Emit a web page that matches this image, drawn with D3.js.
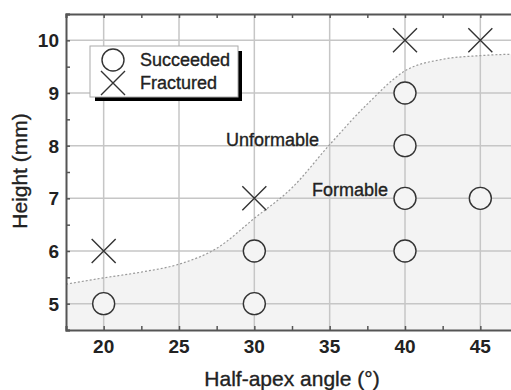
<!DOCTYPE html>
<html>
<head>
<meta charset="utf-8">
<script src="https://cdn.jsdelivr.net/npm/d3@7"></script>
<style>
  body { margin: 0; background: #fff; }
  svg { display: block; font-family: "Liberation Sans", Arial, sans-serif; }
  .lbl { stroke: #222; stroke-width: 0.35px; }
</style>
</head>
<body>
<div id="chart"></div>
<script>
// data
var succeededAngle  = [20, 30, 30, 40, 40, 40, 40, 45];
var succeededHeight = [5, 5, 6, 6, 7, 8, 9, 7];
var fracturedAngle  = [20, 30, 40, 45];
var fracturedHeight = [6, 7, 10, 10];
var boundaryAngle   = [17.5, 20, 22.5, 25, 27.5, 30, 32.5, 35, 37.5, 40, 42.5, 45, 47.5];
var boundaryHeight  = [5.37, 5.49, 5.6, 5.75, 6.05, 6.62, 7.2, 8.02, 8.79, 9.42, 9.64, 9.71, 9.74];
var xTicks = [20, 25, 30, 35, 40, 45];
var yTicks = [5, 6, 7, 8, 9, 10];

var W = 511, H = 390;
var margin = { left: 66, top: 14, bottom: 60 };
var plotRight = 518;

var svg = d3.select("#chart").append("svg")
    .attr("width", W)
    .attr("height", H);

var x = d3.scaleLinear().domain([17.5, 47.5]).range([margin.left, plotRight]);
var y = d3.scaleLinear().domain([4.5, 10.5]).range([H - margin.bottom, margin.top]);

var y0 = y.range()[0], y1 = y.range()[1];

// shaded formable region
var boundary = boundaryAngle.map(function(a, i) { return [a, boundaryHeight[i]]; });

var area = d3.area()
    .x(function(d) { return x(d[0]); })
    .y0(y0)
    .y1(function(d) { return y(d[1]); })
    .curve(d3.curveMonotoneX);

svg.append("path")
    .attr("d", area(boundary))
    .attr("fill", "#f3f3f3");

// grid
svg.append("g").selectAll("line")
    .data(xTicks).enter().append("line")
    .attr("x1", function(d) { return x(d); })
    .attr("x2", function(d) { return x(d); })
    .attr("y1", y0).attr("y2", y1)
    .attr("stroke", "#c6c6c6").attr("stroke-width", 1.5);

svg.append("g").selectAll("line")
    .data(yTicks).enter().append("line")
    .attr("x1", margin.left).attr("x2", plotRight)
    .attr("y1", function(d) { return y(d); })
    .attr("y2", function(d) { return y(d); })
    .attr("stroke", "#c6c6c6").attr("stroke-width", 1.5);

// dotted boundary
var line = d3.line()
    .x(function(d) { return x(d[0]); })
    .y(function(d) { return y(d[1]); })
    .curve(d3.curveMonotoneX);

svg.append("path")
    .attr("d", line(boundary))
    .attr("fill", "none")
    .attr("stroke", "#9a9a9a")
    .attr("stroke-width", 1.2)
    .attr("stroke-dasharray", "2,2");

// axes (ticks pointing inward)
var minorX = d3.range(17.5, 47.6, 2.5);
var minorY = d3.range(4.5, 10.6, 0.5);

var xBottom = svg.append("g")
    .attr("transform", "translate(0," + y0 + ")")
    .call(d3.axisBottom(x).tickValues(minorX).tickSize(-4).tickFormat(""));
var xTop = svg.append("g")
    .attr("transform", "translate(0," + y1 + ")")
    .call(d3.axisTop(x).tickValues(minorX).tickSize(-4).tickFormat(""));
var yLeft = svg.append("g")
    .attr("transform", "translate(" + margin.left + ",0)")
    .call(d3.axisLeft(y).tickValues(minorY).tickSize(-4).tickFormat(""));

[xBottom, xTop, yLeft].forEach(function(g) {
    g.select(".domain").attr("stroke", "#555").attr("stroke-width", 2);
    g.selectAll(".tick line").attr("stroke", "#555").attr("stroke-width", 1.5);
});

// tick labels
svg.append("g").selectAll("text")
    .data(xTicks).enter().append("text")
    .attr("x", function(d) { return x(d); })
    .attr("y", 353)
    .attr("text-anchor", "middle")
    .attr("font-size", 19)
    .attr("font-weight", "bold")
    .attr("fill", "#222")
    .text(function(d) { return d; });

svg.append("g").selectAll("text")
    .data(yTicks).enter().append("text")
    .attr("x", 59)
    .attr("y", function(d) { return y(d); })
    .attr("dy", "0.36em")
    .attr("text-anchor", "end")
    .attr("font-size", 19)
    .attr("font-weight", "bold")
    .attr("fill", "#222")
    .text(function(d) { return d; });

// axis titles
svg.append("text")
    .attr("class", "lbl")
    .attr("x", 292)
    .attr("y", 386)
    .attr("text-anchor", "middle")
    .attr("font-size", 21)
    .attr("fill", "#222")
    .text("Half-apex angle (°)");

svg.append("text")
    .attr("class", "lbl")
    .attr("transform", "translate(27,171) rotate(-90)")
    .attr("text-anchor", "middle")
    .attr("font-size", 21)
    .attr("fill", "#222")
    .text("Height (mm)");

// region labels
svg.append("text")
    .attr("class", "lbl")
    .attr("x", 319).attr("y", y(8))
    .attr("text-anchor", "end")
    .attr("font-size", 18)
    .attr("fill", "#222")
    .text("Unformable");

svg.append("text")
    .attr("class", "lbl")
    .attr("x", 388).attr("y", y(7) - 2)
    .attr("text-anchor", "end")
    .attr("font-size", 18)
    .attr("fill", "#222")
    .text("Formable");

// markers
var R = 11;
var succeeded = succeededAngle.map(function(a, i) { return [a, succeededHeight[i]]; });
var fractured = fracturedAngle.map(function(a, i) { return [a, fracturedHeight[i]]; });

svg.append("g").selectAll("circle")
    .data(succeeded).enter().append("circle")
    .attr("cx", function(d) { return x(d[0]); })
    .attr("cy", function(d) { return y(d[1]); })
    .attr("r", R)
    .attr("fill", "#f4f4f4")
    .attr("stroke", "#333")
    .attr("stroke-width", 1.4);

function cross(cx, cy, s) {
    return "M" + (cx - s) + "," + (cy - s) + "L" + (cx + s) + "," + (cy + s) +
           "M" + (cx - s) + "," + (cy + s) + "L" + (cx + s) + "," + (cy - s);
}

svg.append("g").selectAll("path")
    .data(fractured).enter().append("path")
    .attr("d", function(d) { return cross(x(d[0]), y(d[1]), 12); })
    .attr("stroke", "#333")
    .attr("stroke-width", 1.4)
    .attr("fill", "none");

// legend
var lg = svg.append("g");
lg.append("rect")
    .attr("x", 95).attr("y", 51)
    .attr("width", 147).attr("height", 50)
    .attr("fill", "#000");
lg.append("rect")
    .attr("x", 90).attr("y", 46)
    .attr("width", 148).attr("height", 51)
    .attr("fill", "#fff")
    .attr("stroke", "#aaa")
    .attr("stroke-width", 1);
lg.append("circle")
    .attr("cx", 113).attr("cy", 60).attr("r", R)
    .attr("fill", "#fff").attr("stroke", "#333").attr("stroke-width", 1.4);
lg.append("path")
    .attr("d", cross(113, 83, 12))
    .attr("stroke", "#333").attr("stroke-width", 1.4);
lg.append("text")
    .attr("class", "lbl")
    .attr("x", 140).attr("y", 66)
    .attr("font-size", 18).attr("fill", "#222")
    .text("Succeeded");
lg.append("text")
    .attr("class", "lbl")
    .attr("x", 140).attr("y", 89)
    .attr("font-size", 18).attr("fill", "#222")
    .text("Fractured");
</script>
</body>
</html>
